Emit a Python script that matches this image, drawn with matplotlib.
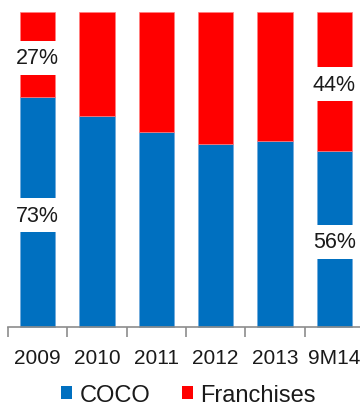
import matplotlib
matplotlib.use("Agg")
import matplotlib.pyplot as plt
from matplotlib.patches import Patch

plt.rcParams['font.family'] = ['Liberation Sans', 'DejaVu Sans']

periods = ["2009", "2010", "2011", "2012", "2013", "9M14"]
coco = [73, 67, 62, 58, 59, 56]
franchises = [27, 33, 38, 42, 41, 44]
labelled = [0, 5]  # periods whose shares are written on the bars

BLUE = "#0070C0"
RED = "#FF0000"

fig = plt.figure(figsize=(3.60, 4.06), dpi=100)
ax = fig.add_axes([8 / 360, 78 / 406, 356 / 360, 315 / 406])

x = list(range(len(periods)))
width = 0.59
ax.bar(x, coco, width, color=BLUE, edgecolor="#6fa8dc", linewidth=0.5, clip_on=False)
ax.bar(x, franchises, width, bottom=coco, color=RED, edgecolor="#ff8080", linewidth=0.5,
       clip_on=False)

box = dict(boxstyle="square,pad=0.3", facecolor="white", edgecolor="none")
for i in labelled:
    ax.text(i, coco[i] / 2 - 1, f"{coco[i]}%", ha="center", va="center",
            fontsize=15.5, color="#1a1a1a", bbox=box)
    ax.text(i, coco[i] + franchises[i] / 2 - 1, f"{franchises[i]}%", ha="center",
            va="center", fontsize=15.5, color="#1a1a1a", bbox=box)

ax.set_xlim(-0.5, len(periods) - 0.5)
ax.set_ylim(0, 100)
for side in ("left", "right", "top"):
    ax.spines[side].set_visible(False)
ax.spines["bottom"].set_color("#8c8c8c")
ax.spines["bottom"].set_linewidth(1.2)
ax.set_yticks([])
ax.set_xticks(x)
ax.set_xticklabels(periods, fontsize=15, color="#1a1a1a")
ax.tick_params(axis="x", which="major", length=0, pad=15)
ax.set_xticks([i - 0.5 for i in range(len(periods) + 1)], minor=True)
ax.tick_params(axis="x", which="minor", length=7, width=1.2, color="#8c8c8c")

handles = [Patch(facecolor=BLUE, label="COCO"), Patch(facecolor=RED, label="Franchises")]
fig.legend(handles=handles, loc="center", bbox_to_anchor=(188.5 / 360, 1 - 396 / 406),
           ncol=2, frameon=False, fontsize=17, handlelength=0.47, handleheight=0.47,
           handletextpad=0.3, columnspacing=1.35, borderpad=0, labelcolor="#1a1a1a")

fig.savefig("out.png", dpi=100)
